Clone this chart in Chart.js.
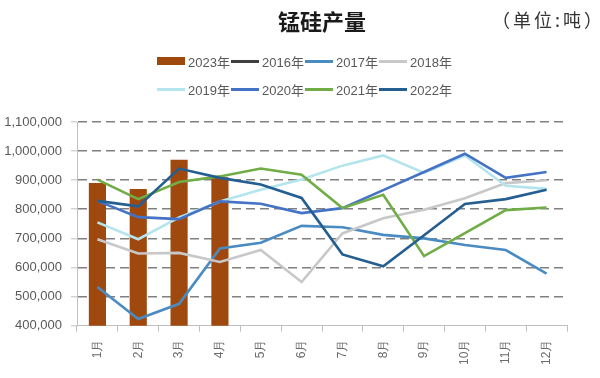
<!DOCTYPE html>
<html>
<head>
<meta charset="utf-8">
<script src="https://cdn.jsdelivr.net/npm/chart.js@4"></script>
<style>
  html, body { margin: 0; padding: 0; background: #fff; }
  #wrap { position: relative; width: 600px; height: 378px; overflow: hidden; }
  #c { position: absolute; left: 0; top: 0; }
  .title { position: absolute; left: 278px; top: 4px; font: bold 22px "Noto Sans CJK SC"; color: #1a1a1a; white-space: nowrap; }
  .unit { position: absolute; left: 492px; top: 6px; font: 18px "Noto Sans CJK SC"; color: #333; letter-spacing: 3px; white-space: nowrap; }
  .leg { position: absolute; height: 16px; display: flex; align-items: center; font: 13px "Liberation Sans", "Noto Sans CJK SC"; color: #595959; white-space: nowrap; }
  .mk { display: inline-block; width: 28px; margin-right: 3px; }
</style>
</head>
<body>
<div id="wrap">
  <canvas id="c" width="600" height="378"></canvas>
  <div class="title">锰硅产量</div>
  <div class="unit">（单位:吨）</div>
  <div id="legend"></div>
</div>
<script>
const months = ['1月','2月','3月','4月','5月','6月','7月','8月','9月','10月','11月','12月'];
const yTicks = [400000, 500000, 600000, 700000, 800000, 900000, 1000000, 1100000];
const s2023 = [890000, 870000, 970000, 910000, null, null, null, null, null, null, null, null];
const s2016 = [null, null, null, null, null, null, null, null, null, null, null, null];
const s2017 = [533000, 423000, 475000, 665000, 685000, 743000, 738000, 712000, 700000, 677000, 660000, 579000];
const s2018 = [697000, 648000, 650000, 619000, 660000, 550000, 717000, 769000, 798000, 838000, 890000, 900000];
const s2019 = [755000, 697000, 772000, 827000, 867000, 902000, 950000, 985000, 925000, 985000, 881000, 870000];
const s2020 = [829000, 773000, 766000, 827000, 819000, 787000, 804000, 866000, 928000, 991000, 908000, 928000];
const s2021 = [902000, 835000, 894000, 913000, 940000, 919000, 804000, 850000, 639000, 718000, 797000, 806000];
const s2022 = [829000, 810000, 940000, 908000, 885000, 839000, 645000, 604000, 711000, 818000, 835000, 867000];

const seriesNames = ['2023年','2016年','2017年','2018年','2019年','2020年','2021年','2022年'];
const colors = ['#A0490F','#404040','#4A8BC2','#C8C8C8','#B4E4EC','#4472C4','#70AD47','#255E91'];
const lineData = [s2016, s2017, s2018, s2019, s2020, s2021, s2022];

const datasets = [{
  type: 'bar', label: seriesNames[0], data: s2023, backgroundColor: colors[0],
  barPercentage: 0.42, categoryPercentage: 1, order: 20
}];
lineData.forEach((d, i) => {
  datasets.push({
    type: 'line', label: seriesNames[i + 1], data: d, borderColor: colors[i + 1],
    backgroundColor: colors[i + 1], borderWidth: 2.6, pointRadius: 0, tension: 0,
    order: 10 - i, fill: false
  });
});

// HTML legend
const leg = document.getElementById('legend');
seriesNames.forEach((n, i) => {
  const row = Math.floor(i / 4), col = i % 4;
  const d = document.createElement('div');
  d.className = 'leg';
  d.style.left = (157 + col * 74) + 'px';
  d.style.top = (53 + row * 28) + 'px';
  const m = document.createElement('span');
  m.className = 'mk';
  m.style.background = colors[i];
  m.style.height = i === 0 ? '8px' : '3px';
  d.appendChild(m);
  d.appendChild(document.createTextNode(n));
  leg.appendChild(d);
});

new Chart(document.getElementById('c'), {
  data: { labels: months, datasets },
  options: {
    responsive: false, animation: false,
    layout: { padding: { top: 122, left: 3, right: 33, bottom: 5 } },
    plugins: { legend: { display: false }, tooltip: { enabled: false } },
    scales: {
      x: {
        offset: true,
        grid: { display: true, drawOnChartArea: false, drawTicks: true, tickLength: 6, tickColor: '#BFBFBF', offset: true },
        border: { display: true, color: '#BFBFBF', width: 1 },
        ticks: { minRotation: 90, maxRotation: 90, color: '#6b6b6b', font: { family: 'Liberation Sans', size: 12 }, padding: 8 }
      },
      y: {
        min: 400000, max: 1100000,
        afterFit: (ax) => { ax.width = 74; },
        afterBuildTicks: (ax) => { ax.ticks = yTicks.map(v => ({ value: v })); },
        grid: {
          color: (ctx) => (ctx.tick && ctx.tick.value === 400000) ? 'rgba(0,0,0,0)' : '#808080',
          lineWidth: 1.6, tickLength: 6, tickColor: '#BFBFBF', tickBorderDash: [], tickWidth: 1
        },
        border: { display: true, color: '#BFBFBF', width: 1, dash: [9, 5] },
        ticks: {
          color: '#595959', font: { family: 'Liberation Sans', size: 13 }, padding: 9,
          callback: (v) => Number(v).toLocaleString('en-US')
        }
      }
    }
  }
});
</script>
</body>
</html>
